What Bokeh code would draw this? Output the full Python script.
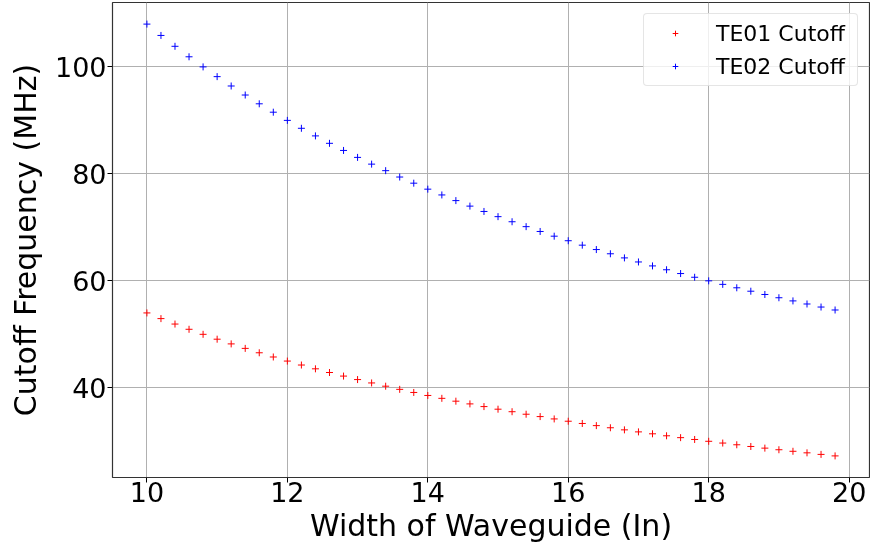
from bokeh.plotting import figure
from bokeh.models import Range1d, FixedTicker, Legend, LegendItem, ColumnDataSource
from bokeh.embed import file_html
from bokeh.resources import INLINE

width_in = [10.0, 10.2, 10.4, 10.6, 10.8, 11.0, 11.2, 11.4, 11.6, 11.8,
            12.0, 12.2, 12.4, 12.6, 12.8, 13.0, 13.2, 13.4, 13.6, 13.8,
            14.0, 14.2, 14.4, 14.6, 14.8, 15.0, 15.2, 15.4, 15.6, 15.8,
            16.0, 16.2, 16.4, 16.6, 16.8, 17.0, 17.2, 17.4, 17.6, 17.8,
            18.0, 18.2, 18.4, 18.6, 18.8, 19.0, 19.2, 19.4, 19.6, 19.8]

te01 = [54.00, 52.94, 51.92, 50.94, 50.00, 49.09, 48.21, 47.37, 46.55, 45.76,
        45.00, 44.26, 43.55, 42.86, 42.19, 41.54, 40.91, 40.30, 39.71, 39.13,
        38.57, 38.03, 37.50, 36.99, 36.49, 36.00, 35.53, 35.06, 34.62, 34.18,
        33.75, 33.33, 32.93, 32.53, 32.14, 31.76, 31.40, 31.03, 30.68, 30.34,
        30.00, 29.67, 29.35, 29.03, 28.72, 28.42, 28.13, 27.84, 27.55, 27.27]

te02 = [108.00, 105.88, 103.85, 101.89, 100.00, 98.18, 96.43, 94.74, 93.10, 91.53,
        90.00, 88.52, 87.10, 85.71, 84.38, 83.08, 81.82, 80.60, 79.41, 78.26,
        77.14, 76.06, 75.00, 73.97, 72.97, 72.00, 71.05, 70.13, 69.23, 68.35,
        67.50, 66.67, 65.85, 65.06, 64.29, 63.53, 62.79, 62.07, 61.36, 60.67,
        60.00, 59.34, 58.70, 58.06, 57.45, 56.84, 56.25, 55.67, 55.10, 54.55]

x_ticks = [10, 12, 14, 16, 18, 20]
y_ticks = [40, 60, 80, 100]

FONT = "DejaVu Sans"

p = figure(frame_width=757, frame_height=475, output_backend="svg", toolbar_location=None,
           x_range=Range1d(9.51, 20.29), y_range=Range1d(23.23, 112.04),
           min_border_left=112, min_border_right=1, min_border_top=2, min_border_bottom=60)
p.styles = {"position": "fixed", "left": "0px", "top": "0px"}

src1 = ColumnDataSource(dict(x=width_in, y=te01, c=["#ff0000"] * len(te01)))
src2 = ColumnDataSource(dict(x=width_in, y=te02, c=["#0000ff"] * len(te02)))

r1 = p.scatter("x", "y", source=src1, marker="cross", size=7, line_color="c",
               fill_color=None, line_width=1)
r2 = p.scatter("x", "y", source=src2, marker="cross", size=7, line_color="c",
               fill_color=None, line_width=1)

p.outline_line_color = "#333333"
p.outline_line_width = 1.2

for ax in (p.xaxis[0], p.yaxis[0]):
    ax.axis_line_color = None
    ax.major_tick_out = 5
    ax.major_tick_in = 0
    ax.major_tick_line_color = "#000000"
    ax.minor_tick_line_color = None
    ax.major_label_text_font = FONT
    ax.major_label_text_font_size = "27px"
    ax.major_label_text_color = "#000000"
    ax.axis_label_text_font = FONT
    ax.axis_label_text_font_size = "30px"
    ax.axis_label_text_font_style = "normal"
    ax.axis_label_text_color = "#000000"

p.xaxis[0].ticker = FixedTicker(ticks=x_ticks)
p.yaxis[0].ticker = FixedTicker(ticks=y_ticks)
p.xaxis[0].axis_label = "Width of Waveguide (In)"
p.yaxis[0].axis_label = "Cutoff Frequency (MHz)"
p.xaxis[0].major_label_standoff = -1
p.yaxis[0].major_label_standoff = 1
p.xaxis[0].axis_label_standoff = 3
p.yaxis[0].axis_label_standoff = 9

p.xgrid.grid_line_color = "#b0b0b0"
p.ygrid.grid_line_color = "#b0b0b0"
p.xgrid.grid_line_width = 1
p.ygrid.grid_line_width = 1

legend = Legend(items=[LegendItem(label="TE01 Cutoff", renderers=[r1], index=0),
                       LegendItem(label="TE02 Cutoff", renderers=[r2], index=0)],
                location="top_right")
legend.label_text_font = FONT
legend.label_text_font_size = "22px"
legend.label_text_color = "#000000"
legend.border_line_color = "#cccccc"
legend.border_line_width = 1
legend.border_radius = 4
legend.background_fill_alpha = 0.8
legend.padding = 5
legend.spacing = 5
legend.glyph_width = 52
legend.glyph_height = 14
legend.label_height = 28
legend.label_width = 136
legend.label_standoff = 15
legend.margin = 11
p.add_layout(legend)

open("out.html", "w").write(file_html(p, INLINE))
